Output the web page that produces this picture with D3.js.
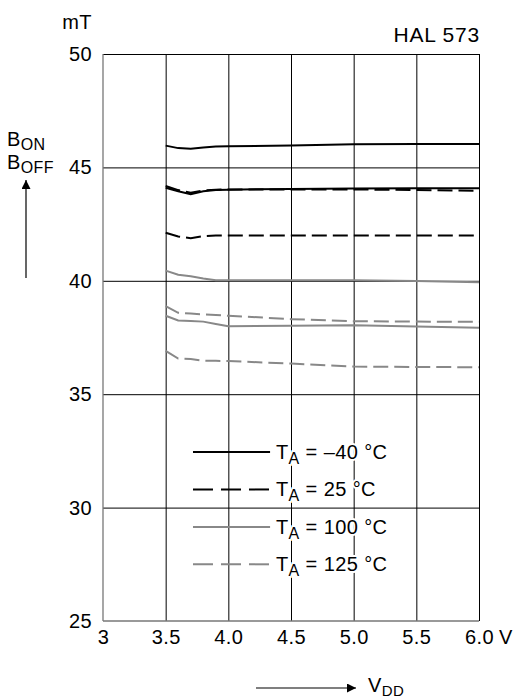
<!DOCTYPE html>
<html>
<head>
<meta charset="utf-8">
<script src="https://cdn.jsdelivr.net/npm/d3@7"></script>
<style>
  body { margin: 0; background: #fff; }
  text { font-family: "Liberation Sans", Arial, sans-serif; fill: #000; letter-spacing: 0.4px; }
</style>
</head>
<body>
<div id="chart"></div>
<script>
// supply voltage (V) where the curves were read
var vdd = [3.5, 3.6, 3.7, 3.8, 3.9, 4.0, 4.5, 5.0, 5.5, 6.0];

// switching points in mT, one array per curve
var on_m40   = [45.96, 45.85, 45.82, 45.88, 45.92, 45.93, 45.97, 46.02, 46.03, 46.03];
var off_m40  = [44.10, 43.95, 43.82, 43.95, 44.00, 44.02, 44.05, 44.07, 44.08, 44.08];
var on_25    = [44.18, 44.00, 43.88, 43.98, 44.02, 44.03, 44.03, 44.03, 44.00, 43.97];
var off_25   = [42.12, 41.95, 41.88, 41.97, 42.00, 42.00, 42.00, 42.00, 42.00, 42.00];
var on_100   = [40.45, 40.27, 40.20, 40.10, 40.02, 40.02, 40.02, 40.02, 39.99, 39.94];
var off_100  = [38.46, 38.25, 38.23, 38.20, 38.10, 38.00, 38.02, 38.04, 37.98, 37.93];
var on_125   = [38.88, 38.59, 38.56, 38.52, 38.49, 38.46, 38.31, 38.22, 38.20, 38.19];
var off_125  = [36.91, 36.57, 36.55, 36.48, 36.47, 36.46, 36.35, 36.22, 36.20, 36.19];

var xTicks = [3, 3.5, 4.0, 4.5, 5.0, 5.5, 6.0];
var xTickLabels = ["3", "3.5", "4.0", "4.5", "5.0", "5.5", "6.0"];
var yTicks = [25, 30, 35, 40, 45, 50];

var legendTemps = ["\u201340", "25", "100", "125"];

var series = [
  {vals: on_m40,  color: "#000", dash: null},
  {vals: off_m40, color: "#000", dash: null},
  {vals: on_25,   color: "#000", dash: "15,6"},
  {vals: off_25,  color: "#000", dash: "15,6"},
  {vals: on_100,  color: "#888", dash: null},
  {vals: off_100, color: "#888", dash: null},
  {vals: on_125,  color: "#888", dash: "15,6"},
  {vals: off_125, color: "#888", dash: "15,6"}
];
var legendStyles = [
  {color: "#000", dash: null},
  {color: "#000", dash: "20,8"},
  {color: "#888", dash: null},
  {color: "#888", dash: "20,8"}
];

var margin = {top: 54, right: 36, bottom: 79, left: 103},
    width = 515 - margin.left - margin.right,
    height = 700 - margin.top - margin.bottom;

var svgRoot = d3.select("#chart")
  .append("svg")
    .attr("width", 515)
    .attr("height", 700);
var svg = svgRoot.append("g")
    .attr("transform", "translate(" + margin.left + "," + margin.top + ")");

var x = d3.scaleLinear().domain([3, 6]).range([0, width]);
var y = d3.scaleLinear().domain([25, 50]).range([height, 0]);

// x grid + labels
var xAxis = svg.append("g")
    .attr("transform", "translate(0," + height + ")")
    .call(d3.axisBottom(x)
      .tickValues(xTicks)
      .tickSize(-height)
      .tickPadding(9)
      .tickFormat((d, i) => xTickLabels[i]));
xAxis.select(".domain").remove();
xAxis.selectAll("line").attr("stroke", "#000").attr("stroke-width", 1)
  .attr("display", d => d === 3 ? "none" : null);
xAxis.selectAll("text").attr("font-size", 20).attr("font-family", "Liberation Sans, Arial, sans-serif");

// y grid + labels
var yAxis = svg.append("g")
    .call(d3.axisLeft(y)
      .tickValues(yTicks)
      .tickSize(-width)
      .tickPadding(11));
yAxis.select(".domain").remove();
yAxis.selectAll("line").attr("stroke", "#000").attr("stroke-width", 1)
  .attr("display", d => d === 25 ? "none" : null);
yAxis.selectAll("text").attr("font-size", 20).attr("font-family", "Liberation Sans, Arial, sans-serif");

// left and bottom frame edges
svg.append("line").attr("x1", 0).attr("x2", 0).attr("y1", 0).attr("y2", height)
  .attr("stroke", "#777").attr("stroke-width", 1.3);
svg.append("line").attr("x1", 0).attr("x2", width).attr("y1", height).attr("y2", height)
  .attr("stroke", "#777").attr("stroke-width", 1.3);

// curves
var line = d3.line()
  .x((d, i) => x(vdd[i]))
  .y(d => y(d));
svg.append("g")
  .selectAll("path")
  .data(series)
  .enter()
  .append("path")
    .attr("d", d => line(d.vals))
    .attr("fill", "none")
    .attr("stroke", d => d.color)
    .attr("stroke-width", 2)
    .attr("stroke-dasharray", d => d.dash);

// legend
var legY = [32.45, 30.8, 29.15, 27.5];
var leg = svg.append("g");
legendTemps.forEach(function(t, i) {
  var ly = y(legY[i]);
  leg.append("line")
    .attr("x1", x(3.718)).attr("x2", x(4.333))
    .attr("y1", ly).attr("y2", ly)
    .attr("stroke", legendStyles[i].color)
    .attr("stroke-width", 2)
    .attr("stroke-dasharray", legendStyles[i].dash);
  var tx = leg.append("text")
    .attr("x", x(4.38))
    .attr("y", ly + 7)
    .attr("font-size", 20)
    .attr("stroke", "#fff")
    .attr("stroke-width", 4)
    .attr("paint-order", "stroke");
  tx.append("tspan").text("T");
  tx.append("tspan").attr("font-size", 16).attr("dy", 5).text("A");
  tx.append("tspan").attr("dy", -5).text(" = " + t + " \u00b0C");
});

// units and titles
svgRoot.append("text").attr("x", 92).attr("y", 29)
  .attr("text-anchor", "end").attr("font-size", 20).text("mT");
svgRoot.append("text").attr("x", 499).attr("y", 644)
  .attr("font-size", 20).text("V");
svgRoot.append("text").attr("x", 480).attr("y", 42)
  .attr("text-anchor", "end").attr("font-size", 21)
  .style("letter-spacing", "0.8px").text("HAL 573");

var bon = svgRoot.append("text").attr("x", 7).attr("y", 146).attr("font-size", 20);
bon.append("tspan").text("B");
bon.append("tspan").attr("font-size", 16).attr("dy", 4).text("ON");
var boff = svgRoot.append("text").attr("x", 7).attr("y", 169).attr("font-size", 20);
boff.append("tspan").text("B");
boff.append("tspan").attr("font-size", 16).attr("dy", 4).text("OFF");

// arrows
svgRoot.append("defs").append("marker")
  .attr("id", "head")
  .attr("viewBox", "0 0 10 10")
  .attr("refX", 10).attr("refY", 5)
  .attr("markerWidth", 16).attr("markerHeight", 9)
  .attr("markerUnits", "userSpaceOnUse")
  .attr("orient", "auto")
  .append("path").attr("d", "M0,0L10,5L0,10Z").attr("fill", "#000");

svgRoot.append("line").attr("x1", 26).attr("x2", 26).attr("y1", 278).attr("y2", 180)
  .attr("stroke", "#000").attr("stroke-width", 1.2).attr("marker-end", "url(#head)");
svgRoot.append("line").attr("x1", 256).attr("x2", 356).attr("y1", 688).attr("y2", 688)
  .attr("stroke", "#000").attr("stroke-width", 1.2).attr("marker-end", "url(#head)");

var vlab = svgRoot.append("text").attr("x", 368).attr("y", 692).attr("font-size", 20);
vlab.append("tspan").text("V");
vlab.append("tspan").attr("font-size", 15).attr("dy", 4).text("DD");
</script>
</body>
</html>
